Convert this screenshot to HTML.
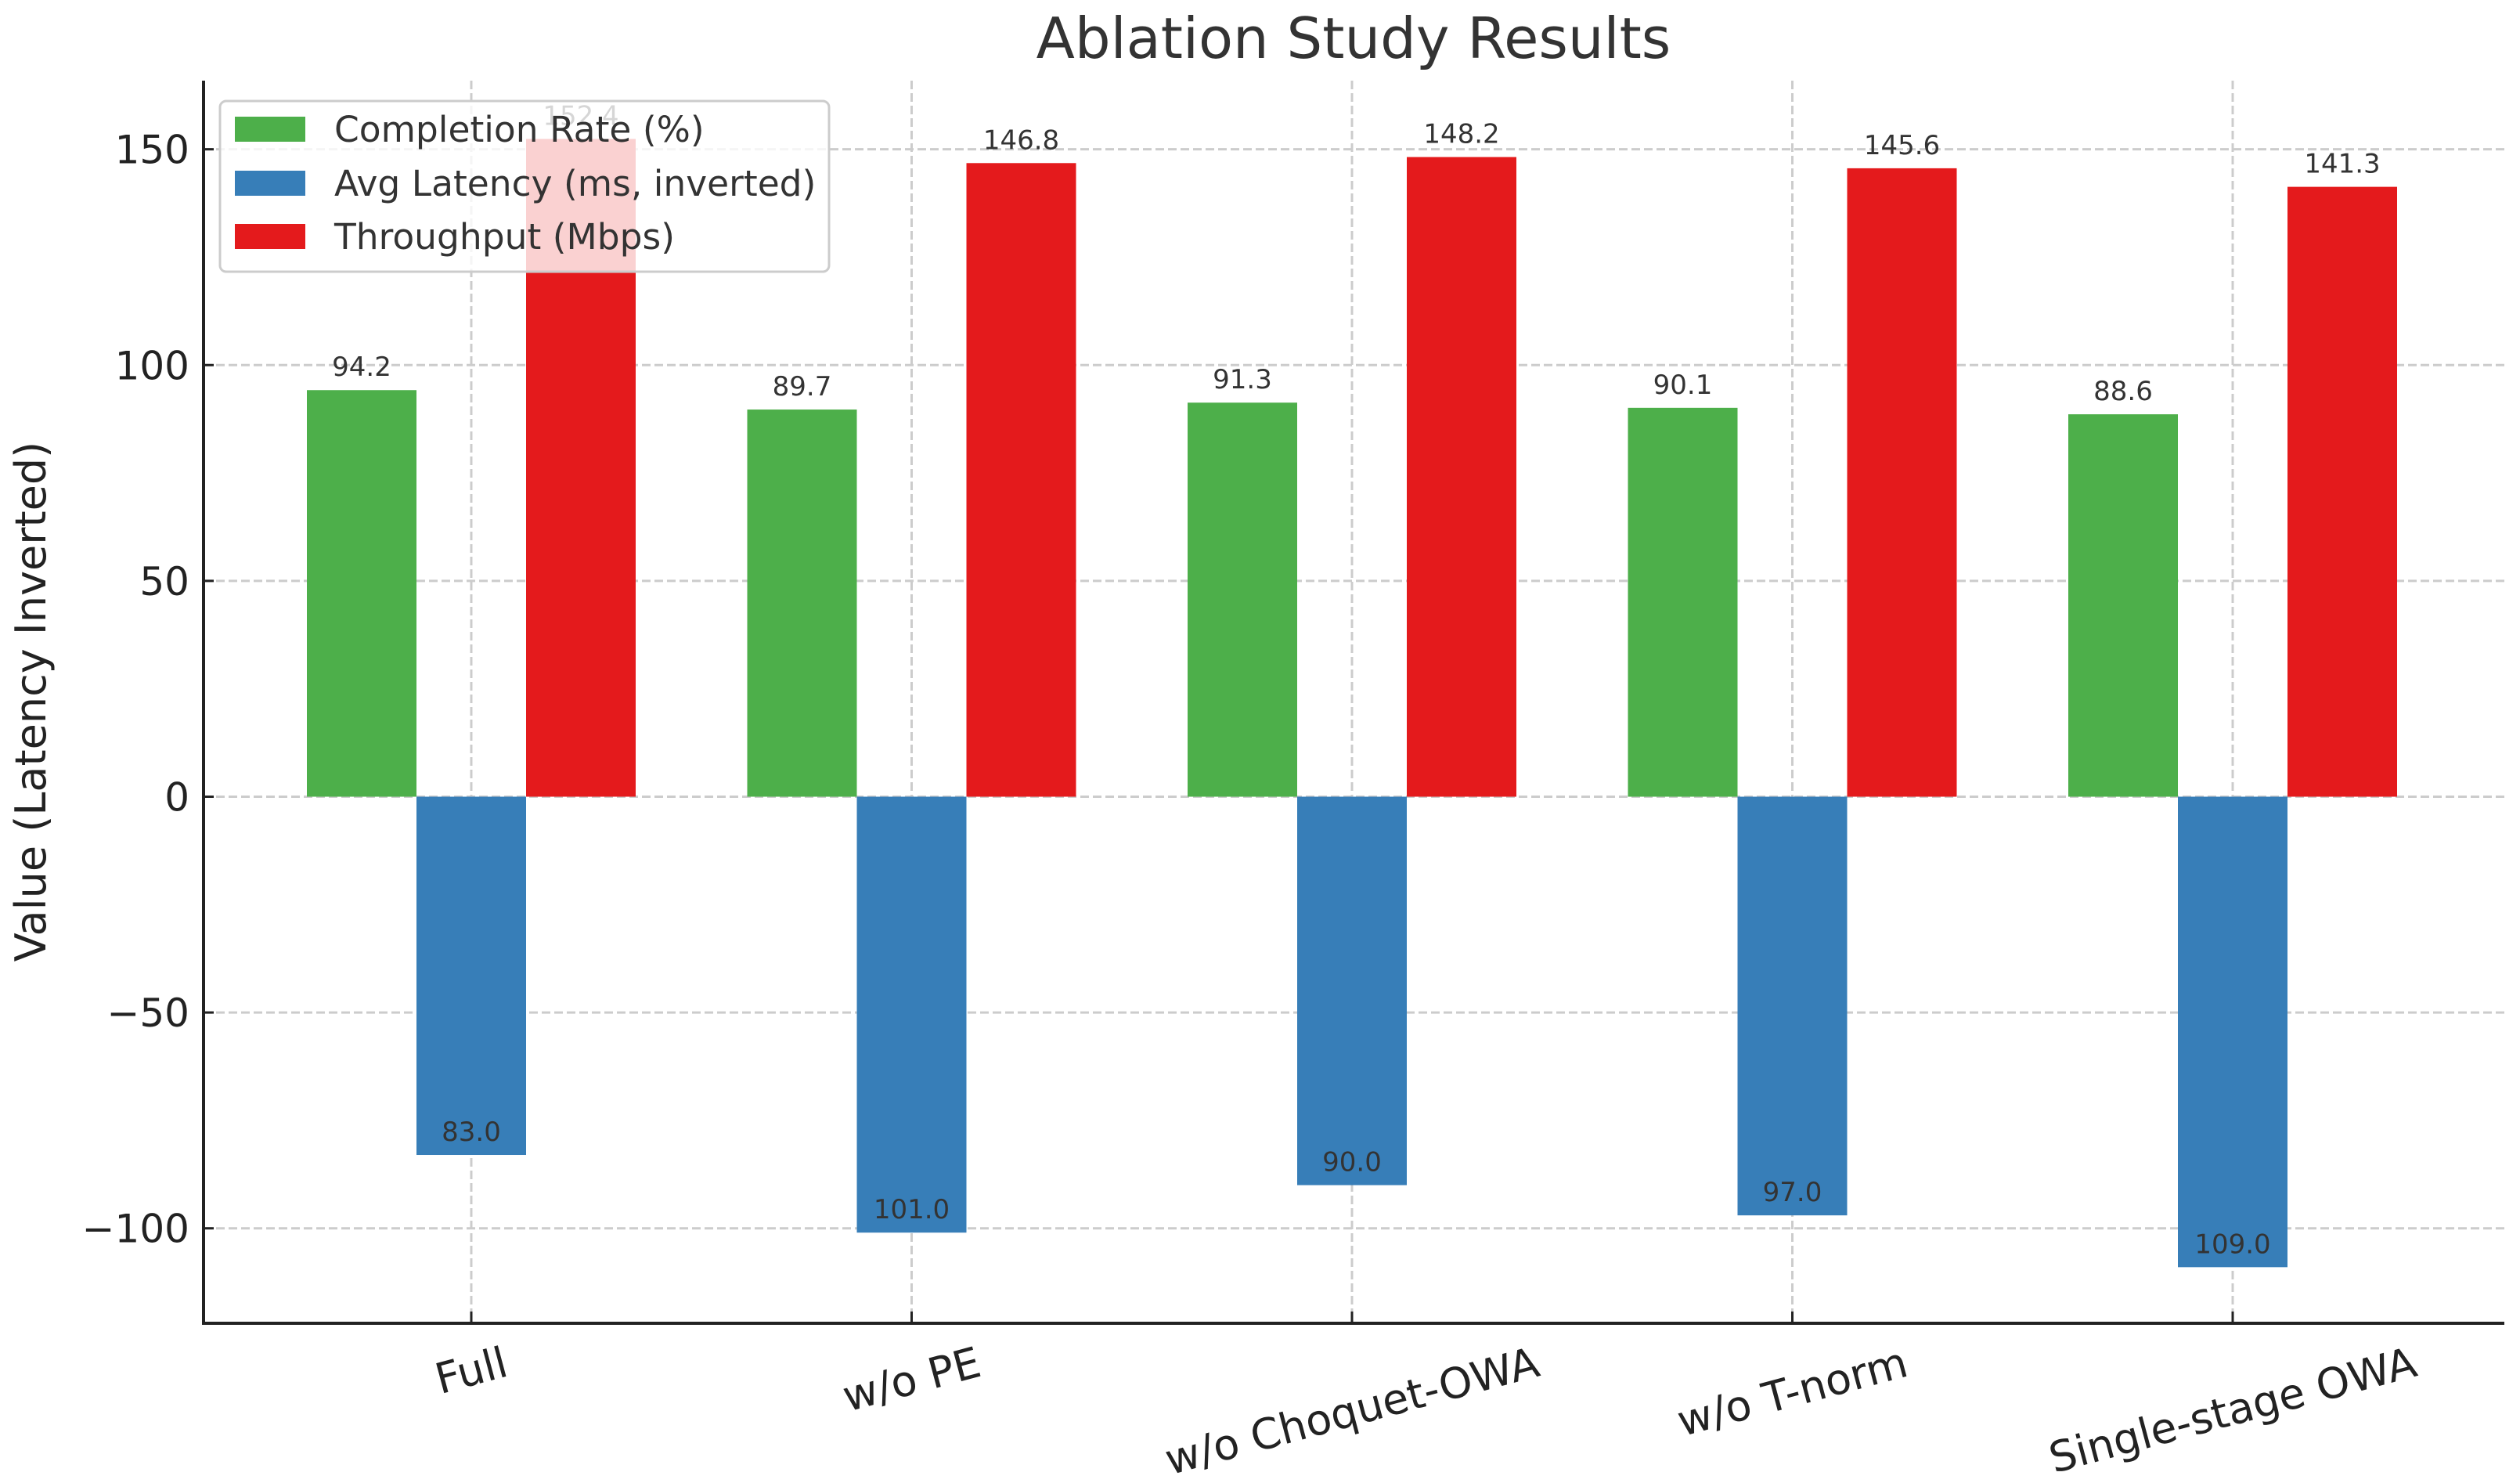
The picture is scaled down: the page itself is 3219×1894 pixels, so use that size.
<!DOCTYPE html>
<html><head><meta charset="utf-8"><style>
html,body{margin:0;padding:0;background:#fff}
svg{display:block;font-family:"DejaVu Sans","Liberation Sans",sans-serif}
</style></head><body>
<svg id="chart" width="3219" height="1894" viewBox="0 0 3219 1894" xmlns="http://www.w3.org/2000/svg">
<rect width="3219" height="1894" fill="#fff"/>
<text x="1729" y="74" font-size="72" text-anchor="middle" fill="#333">Ablation Study Results</text>
<text transform="translate(58,896) rotate(-90)" font-size="54" text-anchor="middle" fill="#222">Value (Latency Inverted)</text>
<g id="grid"></g>
<g id="bars"></g>
<g id="labels"></g>
<g id="axes"></g>
<g id="legend">
  <rect x="281" y="129" width="778" height="218" rx="8" fill="#fff" fill-opacity="0.8" stroke="#ccc" stroke-width="3"/>
  <rect x="300" y="149" width="90" height="32" fill="#4daf4a"/>
  <text x="427" y="181" font-size="45.5" fill="#333">Completion Rate (%)</text>
  <rect x="300" y="218" width="90" height="32" fill="#377eb8"/>
  <text x="427" y="250" font-size="45.5" fill="#333">Avg Latency (ms, inverted)</text>
  <rect x="300" y="286" width="90" height="32" fill="#e41a1c"/>
  <text x="427" y="318" font-size="45.5" fill="#333">Throughput (Mbps)</text>
</g>
</svg>
<script>
const categories = ["Full", "w/o PE", "w/o Choquet-OWA", "w/o T-norm", "Single-stage OWA"];
const completion = [94.2, 89.7, 91.3, 90.1, 88.6];
const latency = [83.0, 101.0, 90.0, 97.0, 109.0];
const throughput = [152.4, 146.8, 148.2, 145.6, 141.3];
const yTicks = [-100, -50, 0, 50, 100, 150];
const yTickLabels = ["\u2212100", "\u221250", "0", "50", "100", "150"];

const NS = "http://www.w3.org/2000/svg";
const L = 260, R = 3199, T = 103, B = 1690;
const yMin = -122.0, yMax = 165.9;
function yScale(v){ return B - (v - yMin) / (yMax - yMin) * (B - T); }
const step = 562.5, x0 = 602;
function xScale(i){ return x0 + i * step; }
const barW = 140;
const rot = 15 * Math.PI / 180;
const xFont = 54;

function mk(tag, attrs, parent){
  const e = document.createElementNS(NS, tag);
  for (const k in attrs) e.setAttribute(k, attrs[k]);
  parent.appendChild(e);
  return e;
}
const grid = document.getElementById('grid');
const bars = document.getElementById('bars');
const labels = document.getElementById('labels');
const axes = document.getElementById('axes');

yTicks.forEach((t, i) => {
  const y = yScale(t);
  const g = mk('line', {x1:L, x2:R, y1:y, y2:y, stroke:'#ccc', 'stroke-width':3, 'stroke-dasharray':'11,5'}, grid);
  
  
  const tk = mk('line', {x1:L, x2:L+13, y1:y, y2:y, stroke:'#222', 'stroke-width':3}, axes);
  
  
  const tx = mk('text', {x:L-18, y:y+18, 'font-size':50, 'text-anchor':'end', fill:'#222'}, axes);
  tx.textContent = yTickLabels[i];
  
  
});

const textH = xFont * 1.1;
const bboxTop = B + 20;

categories.forEach((c, i) => {
  const x = xScale(i);
  const g = mk('line', {x1:x, x2:x, y1:T, y2:B, stroke:'#ccc', 'stroke-width':3, 'stroke-dasharray':'11,5'}, grid);
  
  
  const tk = mk('line', {x1:x, x2:x, y1:B-15, y2:B, stroke:'#222', 'stroke-width':3}, axes);
  
  
  const tx = mk('text', {x:0, y:0, 'font-size':xFont, 'text-anchor':'middle', 'dominant-baseline':'central', fill:'#222'}, axes);
  tx.textContent = c;
  
  
  const w = tx.getComputedTextLength();
  const bh = w * Math.sin(rot) + textH * Math.cos(rot);
  const cy = bboxTop + bh / 2;
  tx.setAttribute('transform', `translate(${x},${cy}) rotate(-15)`);

  const series = [
    {v: completion[i], disp: completion[i], color:'#4daf4a', off:-barW, name:'bar-completion'},
    {v: -latency[i], disp: latency[i], color:'#377eb8', off:0, name:'bar-latency'},
    {v: throughput[i], disp: throughput[i], color:'#e41a1c', off:barW, name:'bar-throughput'}
  ];
  series.forEach(s => {
    const cx = x + s.off;
    const y0 = yScale(0), y1 = yScale(s.v);
    const r = mk('rect', {x:cx-barW/2, y:Math.min(y0,y1), width:barW, height:Math.abs(y1-y0), fill:s.color}, bars);
    
    
    const lb = mk('text', {x:cx, y:y1-18, 'font-size':34, 'text-anchor':'middle', fill:'#333'}, labels);
    lb.textContent = s.disp.toFixed(1);
    
    
  });
});

const ax1 = mk('line', {x1:L, x2:L, y1:T, y2:B+2, stroke:'#222', 'stroke-width':4}, axes);


const ax2 = mk('line', {x1:L-2, x2:R, y1:B, y2:B, stroke:'#222', 'stroke-width':4}, axes);


</script>
</body></html>
